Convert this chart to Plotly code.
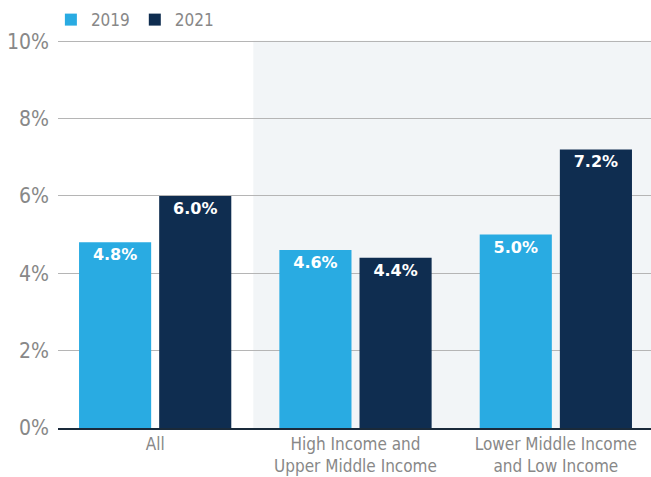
import plotly.graph_objects as go

# Colors
LIGHT_BLUE = "#29abe2"
NAVY = "#0f2d50"
SHADE = "#f2f5f7"
GRID = "#b5b5b5"
TICK = "#888888"
FONT = "Liberation Sans Narrow, DejaVu Sans Condensed, Arial Narrow, sans-serif"

categories = ["All", "High Income and<br>Upper Middle Income", "Lower Middle Income<br>and Low Income"]
values_2019 = [4.8, 4.6, 5.0]
values_2021 = [6.0, 4.4, 7.2]
y_ticks = [0, 2, 4, 6, 8, 10]

fig = go.Figure()
for name, vals, color in [("2019", values_2019, LIGHT_BLUE), ("2021", values_2021, NAVY)]:
    fig.add_trace(go.Bar(
        name=name,
        x=categories,
        y=vals,
        marker={"color": color, "line": {"width": 0}},
        text=[f"{v:.1f}%" for v in vals],
        textposition="inside",
        insidetextanchor="end",
        textangle=0,
        textfont={"color": "white", "size": 16, "family": "DejaVu Sans, sans-serif", "weight": "bold"},
    ))

# shaded background behind the income groups
fig.add_vrect(x0=0.49, x1=2.5, y0=0, y1=0.998, fillcolor=SHADE, line_width=0, layer="below")

fig.update_layout(
    width=651,
    height=477,
    paper_bgcolor="white",
    plot_bgcolor="white",
    margin={"l": 58, "r": 0, "t": 40, "b": 49},
    barmode="group",
    bargap=0.2,
    bargroupgap=0.1,
    font={"family": FONT, "color": TICK},
    showlegend=True,
    legend={
        "orientation": "h",
        "x": -0.012, "y": 1.005,
        "xanchor": "left", "yanchor": "bottom",
        "font": {"size": 17, "color": TICK},
        "itemclick": False,
        "traceorder": "normal",
    },
    xaxis={
        "range": [-0.485, 2.475],
        "tickfont": {"size": 17, "color": TICK},
        "showline": True,
        "linecolor": "#1a2a3a",
        "linewidth": 1.5,
        "ticks": "",
    },
    yaxis={
        "range": [0, 10.03],
        "tickmode": "array",
        "tickvals": y_ticks,
        "ticktext": [f"{t}%" for t in y_ticks],
        "tickfont": {"size": 21, "color": TICK},
        "gridcolor": GRID,
        "gridwidth": 1,
        "zeroline": False,
        "ticklabelstandoff": 8,
    },
)

fig.write_html(
    "out.html",
    config={"displayModeBar": False},
    post_script="document.body.style.margin='0';",
)
